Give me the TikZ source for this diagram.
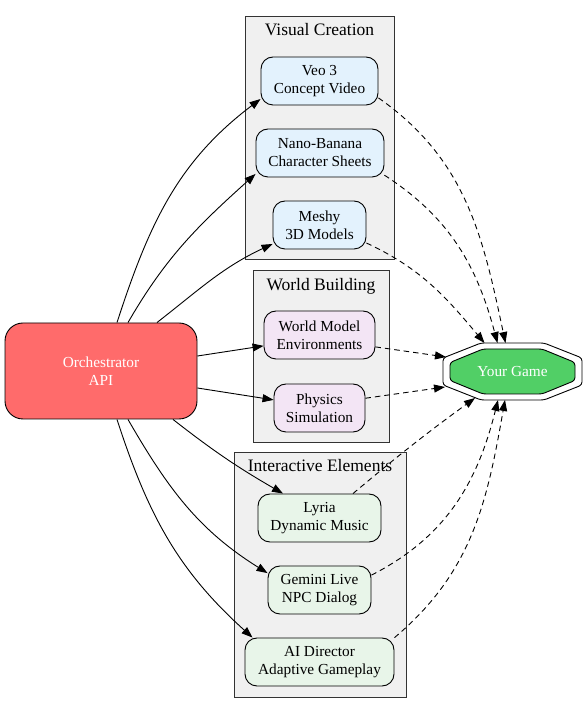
\documentclass[tikz,border=0pt]{standalone}
\usepackage{fontspec}
\setmainfont{Liberation Serif}
\usetikzlibrary{arrows.meta,calc}
\definecolor{clusterfill}{HTML}{F0F0F0}
\definecolor{visfill}{HTML}{E3F2FD}
\definecolor{worldfill}{HTML}{F3E5F5}
\definecolor{interfill}{HTML}{E8F5E9}
\definecolor{orchfill}{HTML}{FF6B6B}
\definecolor{gamefill}{HTML}{51CF66}
\begin{document}
\begin{tikzpicture}[x=1pt,y=1pt,
  cluster/.style={draw=black!80, fill=clusterfill, line width=0.9pt, inner sep=0, rectangle},
  clabel/.style={font=\fontsize{17.5}{21}\selectfont, anchor=base, inner sep=0},
  box/.style={draw=black, line width=0.9pt, rounded corners=12pt, align=center,
    minimum height=48pt, inner sep=0, font=\fontsize{15.3}{18}\selectfont},
  vis/.style={box, fill=visfill},
  world/.style={box, fill=worldfill},
  inter/.style={box, fill=interfill},
  link/.style={line width=0.9pt, -{Triangle[length=11pt,width=8pt]}},
  dlink/.style={link, dash pattern=on 5.5pt off 4pt},
]
\useasboundingbox (0,0) rectangle (586,713);

% clusters
\node[cluster, minimum width=149, minimum height=243] (vc) at (319.5,575.5) {};
\node[clabel] (vcl) at (319.5,677) {Visual Creation};
\node[cluster, minimum width=136, minimum height=172] (wb) at (321,357) {};
\node[clabel] (wbl) at (321,422) {World Building};
\node[cluster, minimum width=172, minimum height=245] (ie) at (320,138.5) {};
\node[clabel] (iel) at (320,241) {Interactive Elements};

% nodes
\node[vis, minimum width=117] (veo) at (319.5,632) {Veo 3\\Concept Video};
\node[vis, minimum width=128] (nano) at (320,560) {Nano-Banana\\Character Sheets};
\node[vis, minimum width=93] (meshy) at (319.5,488) {Meshy\\3D Models};
\node[world, minimum width=111] (wm) at (319.5,378) {World Model\\Environments};
\node[world, minimum width=91] (ph) at (319.5,305) {Physics\\Simulation};
\node[inter, minimum width=123] (lyria) at (319.5,195) {Lyria\\Dynamic Music};
\node[inter, minimum width=103] (gem) at (319.5,123) {Gemini Live\\NPC Dialog};
\node[inter, minimum width=149] (ai) at (319.5,51) {AI Director\\Adaptive Gameplay};

\node[box, rounded corners=18pt, fill=orchfill, text=white, minimum width=192, minimum height=96]
  (orch) at (101,342) {Orchestrator\\API};

% Your Game (double octagon)
\coordinate (gc) at (512.5,341.5);
\draw[line width=0.9pt, fill=white, rounded corners=3pt]
  ($(gc)+(-31.5,28.5)$) -- ($(gc)+(31.5,28.5)$) -- ($(gc)+(69.5,13.5)$) -- ($(gc)+(69.5,-13.5)$)
  -- ($(gc)+(31.5,-28.5)$) -- ($(gc)+(-31.5,-28.5)$) -- ($(gc)+(-69.5,-13.5)$) -- ($(gc)+(-69.5,13.5)$) -- cycle;
\draw[line width=0.9pt, fill=gamefill, rounded corners=3pt]
  ($(gc)+(-29.5,22.5)$) -- ($(gc)+(29.5,22.5)$) -- ($(gc)+(62.5,9)$) -- ($(gc)+(62.5,-9)$)
  -- ($(gc)+(29.5,-22.5)$) -- ($(gc)+(-29.5,-22.5)$) -- ($(gc)+(-62.5,-9)$) -- ($(gc)+(-62.5,9)$) -- cycle;
\node[inner sep=0, minimum width=139, minimum height=57, text=white,
  font=\fontsize{15.3}{18}\selectfont] (game) at (gc) {Your Game};

% solid edges
\draw[link] ([xshift=16]orch.north) to[out=72,in=217] (veo.197);
\draw[link] ([xshift=27]orch.north) to[out=60,in=222] (nano.198);
\draw[link] ([xshift=56]orch.north) to[out=38,in=205] (meshy.202);
\draw[link] ([yshift=15]orch.east) -- (wm.191);
\draw[link] ([yshift=-17]orch.east) -- (ph.170);
\draw[link] ([xshift=72]orch.south) to[out=-38,in=150] ([xshift=-36.5]lyria.north);
\draw[link] ([xshift=27]orch.south) to[out=-60,in=148] (gem.162);
\draw[link] ([xshift=16]orch.south) to[out=-72,in=138] ([xshift=-67]ai.north);

% dashed edges
\draw[dlink] (veo.-16) to[out=-35,in=102] ([shift={(-7,28.5)}]game.center);
\draw[dlink] (nano.-19) to[out=-33,in=105] ([shift={(-15,28.5)}]game.center);
\draw[dlink] (meshy.-21) to[out=-25,in=130] ([shift={(-28,28.5)}]game.center);
\draw[dlink] (wm.-12) -- ([shift={(-66.5,14.5)}]game.center);
\draw[dlink] (ph.12) -- ([shift={(-67.5,-15.5)}]game.center);
\draw[dlink] ([xshift=33.5]lyria.north) to[out=40,in=216] ([shift={(-37.5,-26.5)}]game.center);
\draw[dlink] (gem.16) to[out=27,in=-104] ([shift={(-14.5,-28.5)}]game.center);
\draw[dlink] (ai.18) to[out=40,in=-100] ([shift={(-7.5,-28.5)}]game.center);
\end{tikzpicture}
\end{document}
